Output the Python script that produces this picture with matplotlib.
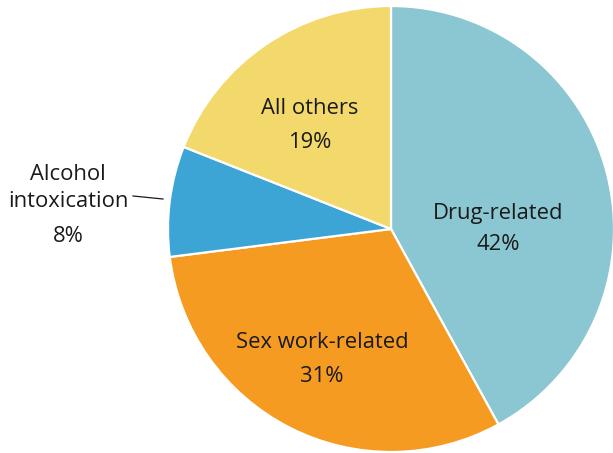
import matplotlib
matplotlib.use("Agg")
import matplotlib.pyplot as plt

# slice data, clockwise from 12 o'clock
categories = ["Drug-related", "Sex work-related", "Alcohol\nintoxication", "All others"]
shares = [42, 31, 8, 19]
colors = ["#8AC7D2", "#F69B22", "#3DA5D5", "#F3D96C"]

plt.rcParams["font.family"] = ["Open Sans", "DejaVu Sans"]

W, H = 613, 453
fig = plt.figure(figsize=(W / 100, H / 100), dpi=100)
ax = fig.add_axes([0, 0, 1, 1])

# work in pixel units so the pie sits where it does in the original
cx, cy, r = 391, H - 229, 223
ax.pie(shares, colors=colors, startangle=90, counterclock=False,
       center=(cx, cy), radius=r, frame=True,
       wedgeprops=dict(edgecolor="white", linewidth=1.6))
ax.set_xlim(0, W)
ax.set_ylim(0, H)
ax.set_aspect("equal")
ax.axis("off")

# label positions (pixel coords, y from top) for name and percent lines
label_pos = [(498, 214, 245), (322, 342, 377), (68, 188, 236), (310, 108, 142)]
fs = 15.8
for name, pct, (x, y1, y2) in zip(categories, shares, label_pos):
    ax.text(x, H - y1, name, ha="center", va="center", fontsize=fs,
            color="#1a1a1a", linespacing=1.32)
    ax.text(x, H - y2, f"{pct}%", ha="center", va="center", fontsize=fs,
            color="#1a1a1a")

# leader line for the small slice
ax.plot([133, 163], [H - 196, H - 199], color="#1a1a1a", lw=0.9)

fig.savefig("out.png", dpi=100)
